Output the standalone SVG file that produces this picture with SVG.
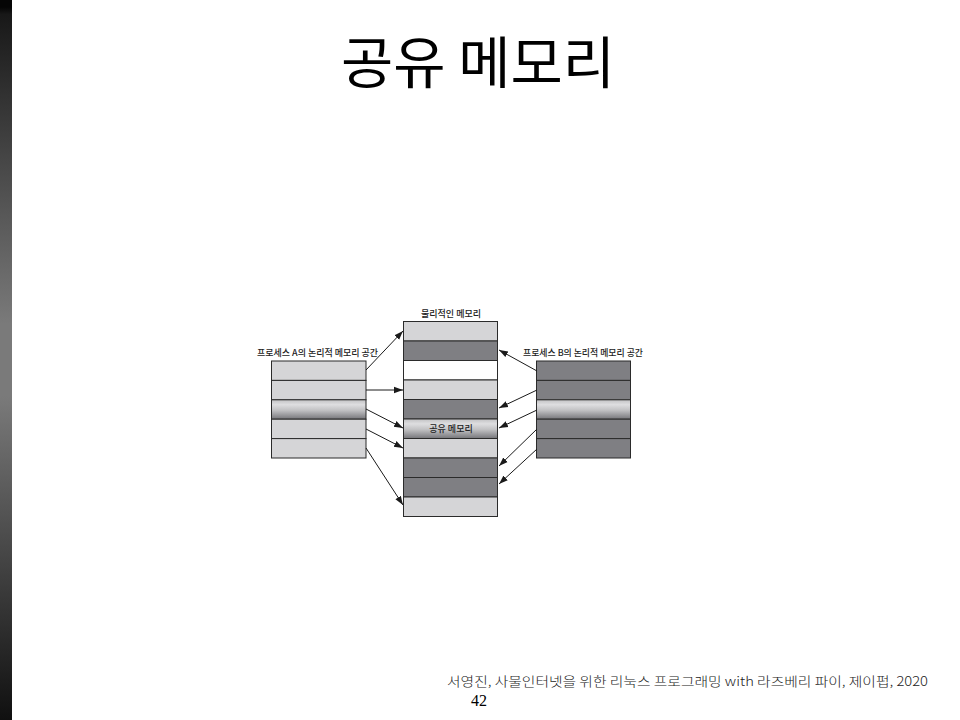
<svg xmlns="http://www.w3.org/2000/svg" width="960" height="720" viewBox="0 0 960 720">
<defs>
<linearGradient id="side" x1="0" y1="0" x2="0" y2="1">
<stop offset="0" stop-color="#050505"/>
<stop offset="0.01" stop-color="#050505"/>
<stop offset="0.02" stop-color="#181818"/>
<stop offset="0.45" stop-color="#7a7a7a"/>
<stop offset="0.55" stop-color="#7a7a7a"/>
<stop offset="1" stop-color="#101010"/>
</linearGradient>
<linearGradient id="shine" x1="0" y1="0" x2="0" y2="1">
<stop offset="0" stop-color="#c2c2c4"/>
<stop offset="0.25" stop-color="#dedee0"/>
<stop offset="0.55" stop-color="#c0c0c2"/>
<stop offset="1" stop-color="#76767a"/>
</linearGradient>
<marker id="ah" viewBox="0 0 10 10" refX="10" refY="5" markerWidth="9" markerHeight="9" markerUnits="userSpaceOnUse" orient="auto">
<path d="M0,1.5 L10,5 L0,8.5 Z" fill="#1a1a1a"/>
</marker>
<style>
.lt{fill:#d5d5d7;stroke:#2b2b2b;stroke-width:1}
.dk{fill:#7f7f83;stroke:#2b2b2b;stroke-width:1}
.wh{fill:#ffffff;stroke:#2b2b2b;stroke-width:1}
.gr{fill:url(#shine);stroke:#2b2b2b;stroke-width:1}
.lbl{font-family:"Noto Sans CJK KR","Noto Sans",sans-serif;font-size:9px;font-weight:500;fill:#222}
.ar{stroke:#1a1a1a;stroke-width:1;fill:none;marker-end:url(#ah)}
</style>
</defs>
<rect width="960" height="720" fill="#ffffff"/>
<rect x="0" y="0" width="12" height="720" fill="url(#side)"/>
<text x="478" y="83" text-anchor="middle" font-family="'Noto Sans CJK KR',sans-serif" font-size="56" font-weight="400" fill="#000" textLength="274" lengthAdjust="spacingAndGlyphs">공유 메모리</text>

<g id="physical">
<text class="lbl" x="451" y="317" text-anchor="middle">물리적인 메모리</text>
<rect class="lt" x="403.5" y="321.5" width="94" height="19.5"/>
<rect class="dk" x="403.5" y="341" width="94" height="19.5"/>
<rect class="wh" x="403.5" y="360.5" width="94" height="19.5"/>
<rect class="lt" x="403.5" y="380" width="94" height="19.5"/>
<rect class="dk" x="403.5" y="399.5" width="94" height="19.5"/>
<rect class="gr" x="403.5" y="419" width="94" height="19.5"/>
<text class="lbl" x="451" y="432" text-anchor="middle">공유 메모리</text>
<rect class="lt" x="403.5" y="438.5" width="94" height="19.5"/>
<rect class="dk" x="403.5" y="458" width="94" height="19.5"/>
<rect class="dk" x="403.5" y="477.5" width="94" height="19.5"/>
<rect class="lt" x="403.5" y="497" width="94" height="19.5"/>
</g>

<g id="processA">
<text class="lbl" x="257" y="356" textLength="121" lengthAdjust="spacingAndGlyphs">프로세스 A의 논리적 메모리 공간</text>
<rect class="lt" x="271.5" y="361" width="94.5" height="19.4"/>
<rect class="lt" x="271.5" y="380.4" width="94.5" height="19.4"/>
<rect class="gr" x="271.5" y="399.8" width="94.5" height="19.4"/>
<rect class="lt" x="271.5" y="419.2" width="94.5" height="19.4"/>
<rect class="lt" x="271.5" y="438.6" width="94.5" height="19.4"/>
</g>

<g id="processB">
<text class="lbl" x="523" y="356" textLength="120" lengthAdjust="spacingAndGlyphs">프로세스 B의 논리적 메모리 공간</text>
<rect class="dk" x="536.5" y="361" width="94" height="19.4"/>
<rect class="dk" x="536.5" y="380.4" width="94" height="19.4"/>
<rect class="gr" x="536.5" y="399.8" width="94" height="19.4"/>
<rect class="dk" x="536.5" y="419.2" width="94" height="19.4"/>
<rect class="dk" x="536.5" y="438.6" width="94" height="19.4"/>
</g>

<g id="connectors">
<line class="ar" x1="366" y1="370" x2="403" y2="331"/>
<line class="ar" x1="366" y1="390" x2="403" y2="390"/>
<line class="ar" x1="366" y1="409" x2="403" y2="428"/>
<line class="ar" x1="366" y1="429" x2="403" y2="448"/>
<line class="ar" x1="366" y1="448" x2="403" y2="505"/>
<line class="ar" x1="537" y1="371" x2="499" y2="350"/>
<line class="ar" x1="537" y1="390" x2="499" y2="408"/>
<line class="ar" x1="537" y1="410" x2="499" y2="428"/>
<line class="ar" x1="537" y1="429" x2="499" y2="466"/>
<line class="ar" x1="537" y1="449" x2="499" y2="484"/>
</g>

<text x="447" y="686" font-family="'Noto Sans CJK KR',sans-serif" font-size="13" font-weight="300" fill="#222" textLength="481" lengthAdjust="spacingAndGlyphs">서영진, 사물인터넷을 위한 리눅스 프로그래밍 with 라즈베리 파이, 제이펍, 2020</text>
<text x="471" y="706" font-family="'Liberation Serif',serif" font-size="16" fill="#000">42</text>
</svg>
